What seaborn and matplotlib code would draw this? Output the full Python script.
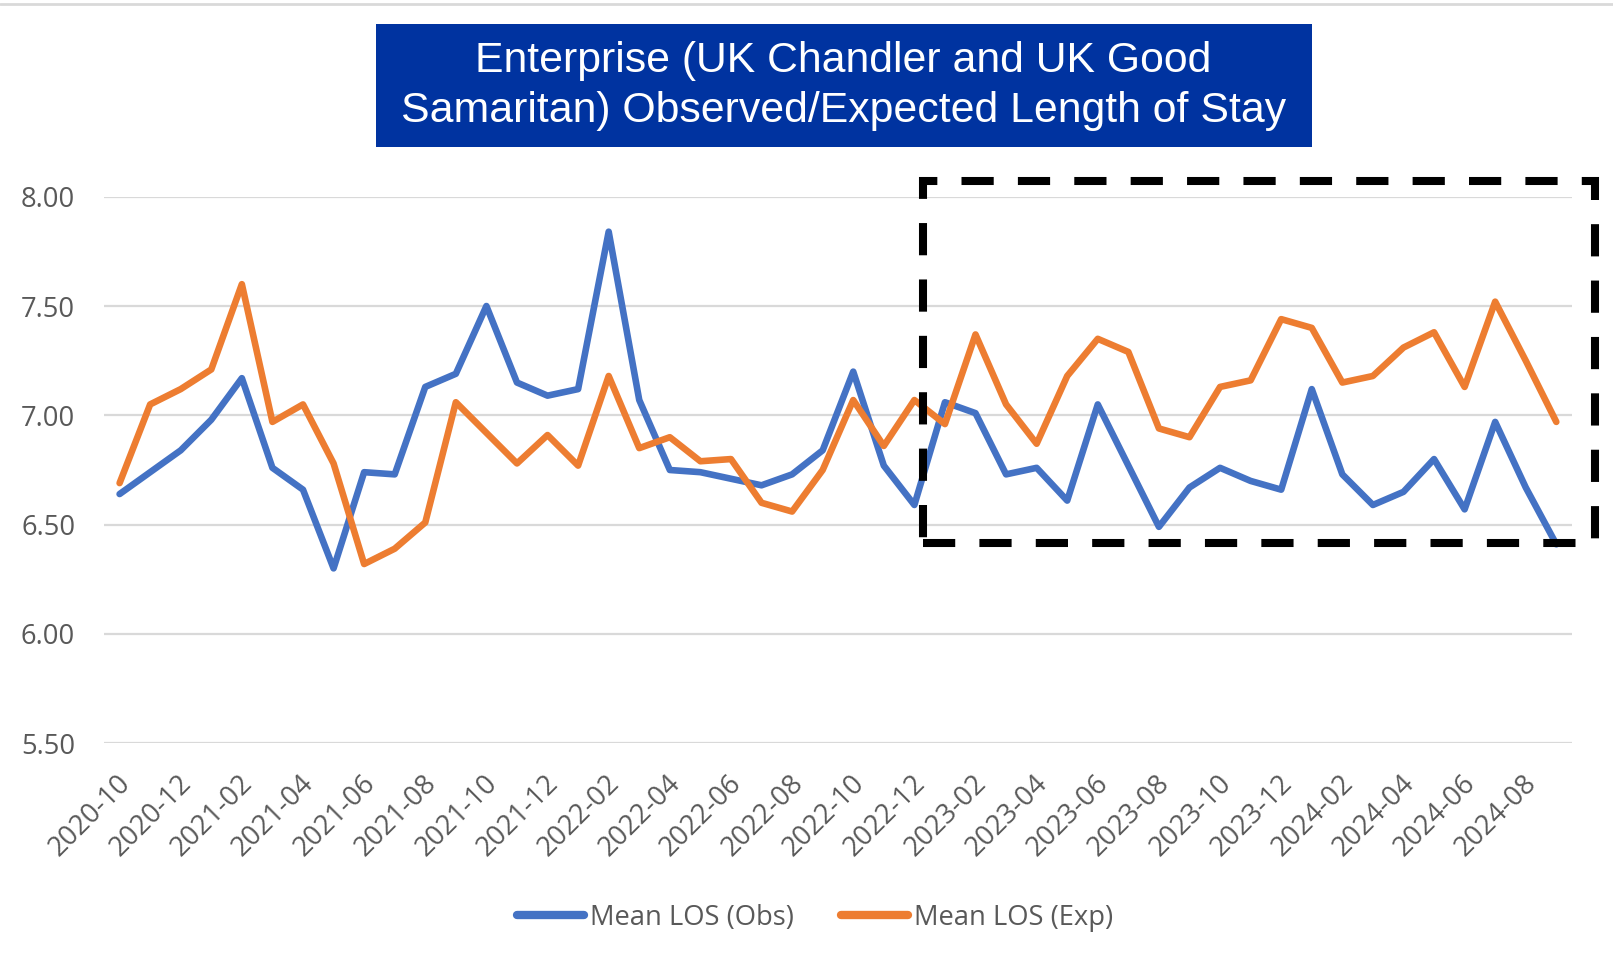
import numpy as np
import pandas as pd
import seaborn as sns
import matplotlib
matplotlib.use("Agg")
import matplotlib.pyplot as plt
import matplotlib.transforms as mtrans
from matplotlib.patches import Rectangle
from matplotlib.lines import Line2D

# ---- data ----
months = [f"{y}-{m:02d}" for y, m in
          [(2020, 10), (2020, 11), (2020, 12)] +
          [(y, m) for y in (2021, 2022, 2023) for m in range(1, 13)] +
          [(2024, m) for m in range(1, 10)]]

obs = [6.64, 6.74, 6.84, 6.98, 7.17, 6.76, 6.66, 6.30, 6.74, 6.73,
       7.13, 7.19, 7.50, 7.15, 7.09, 7.12, 7.84, 7.07, 6.75, 6.74,
       6.71, 6.68, 6.73, 6.84, 7.20, 6.77, 6.59, 7.06, 7.01, 6.73,
       6.76, 6.61, 7.05, 6.77, 6.49, 6.67, 6.76, 6.70, 6.66, 7.12,
       6.73, 6.59, 6.65, 6.80, 6.57, 6.97, 6.67, 6.41]

exp = [6.69, 7.05, 7.12, 7.21, 7.60, 6.97, 7.05, 6.78, 6.32, 6.39,
       6.51, 7.06, 6.92, 6.78, 6.91, 6.77, 7.18, 6.85, 6.90, 6.79,
       6.80, 6.60, 6.56, 6.75, 7.07, 6.86, 7.07, 6.96, 7.37, 7.05,
       6.87, 7.18, 7.35, 7.29, 6.94, 6.90, 7.13, 7.16, 7.44, 7.40,
       7.15, 7.18, 7.31, 7.38, 7.13, 7.52, 7.25, 6.97]

series_names = ["Mean LOS (Obs)", "Mean LOS (Exp)"]
series_colors = ["#4472C4", "#ED7D31"]
yticks = [5.5, 6.0, 6.5, 7.0, 7.5, 8.0]
title_text = "Enterprise (UK Chandler and UK Good\nSamaritan) Observed/Expected Length of Stay"

df = pd.DataFrame({
    "Month": months * 2,
    "Value": obs + exp,
    "Series": [series_names[0]] * len(months) + [series_names[1]] * len(months),
})

# ---- style ----
sns.set_theme(style="white")
plt.rcParams["font.family"] = ["Open Sans", "DejaVu Sans"]

W, H = 1613, 965
fig = plt.figure(figsize=(W / 100, H / 100), dpi=100)
ax = fig.add_axes([104.3 / W, 1 - 743.3 / H, (1571.6 - 104.3) / W, (743.3 - 196.7) / H])

sns.lineplot(data=df, x="Month", y="Value", hue="Series", hue_order=series_names,
             palette=series_colors, linewidth=4.75, errorbar=None, ax=ax,
             legend=False)
for ln in ax.lines:
    ln.set_solid_capstyle("round")
    ln.set_solid_joinstyle("round")

ax.set_xlim(-0.5, len(months) - 0.5)
ax.set_ylim(5.5, 8.0)
ax.set_yticks(yticks)
ax.set_yticklabels([f"{v:.2f}" for v in yticks])
ax.set_xticks(range(0, len(months), 2))
ax.set_xticklabels(months[::2], rotation=45, ha="right", va="top",
                   rotation_mode="anchor")
ax.set_xlabel("")
ax.set_ylabel("")
ax.yaxis.grid(True, color="#D9D9D9", linewidth=1.6)
ax.xaxis.grid(False)
ax.set_axisbelow(True)
for s in ax.spines.values():
    s.set_visible(False)
ax.tick_params(axis="both", length=0, colors="#595959", labelsize=19.7)
ax.tick_params(axis="y", pad=21)
ax.tick_params(axis="x", pad=19)

off = mtrans.ScaledTranslation(-3 / 100, 0, fig.dpi_scale_trans)
for lbl in ax.get_xticklabels():
    lbl.set_transform(lbl.get_transform() + off)

# dashed highlight box
rect = Rectangle((26.27, 6.414), 48.26 - 26.27, 8.072 - 6.414, fill=False,
                 edgecolor="black", linewidth=5.8, linestyle=(0, (4, 3)),
                 clip_on=False, zorder=5)
rect.set_capstyle("butt")
ax.add_patch(rect)

# legend
handles = [Line2D([0], [0], color=c, linewidth=6) for c in series_colors]
fig.legend(handles, series_names, loc="center", bbox_to_anchor=(815 / W, 1 - 918 / H),
           ncol=2, frameon=False, fontsize=19.7, handlelength=2.45, handletextpad=0.22,
           columnspacing=1.72, labelcolor="#595959")

# title box
fig.patches.append(Rectangle((375.5 / W, 1 - 146.5 / H), (1311.6 - 375.5) / W, (146.5 - 24) / H,
                             transform=fig.transFigure, facecolor="#0033A0",
                             edgecolor="none", zorder=10))
fig.text(843.5 / W, 1 - 86 / H, title_text, ha="center", va="center",
         multialignment="center", color="white", fontsize=30.8,
         family=["Liberation Sans", "DejaVu Sans"], linespacing=1.33, zorder=11)

# thin top border
fig.lines.append(Line2D([0, 1], [1 - 4 / H, 1 - 4 / H], transform=fig.transFigure,
                        color="#D9D9D9", linewidth=2))

fig.savefig("out.png", dpi=100)
